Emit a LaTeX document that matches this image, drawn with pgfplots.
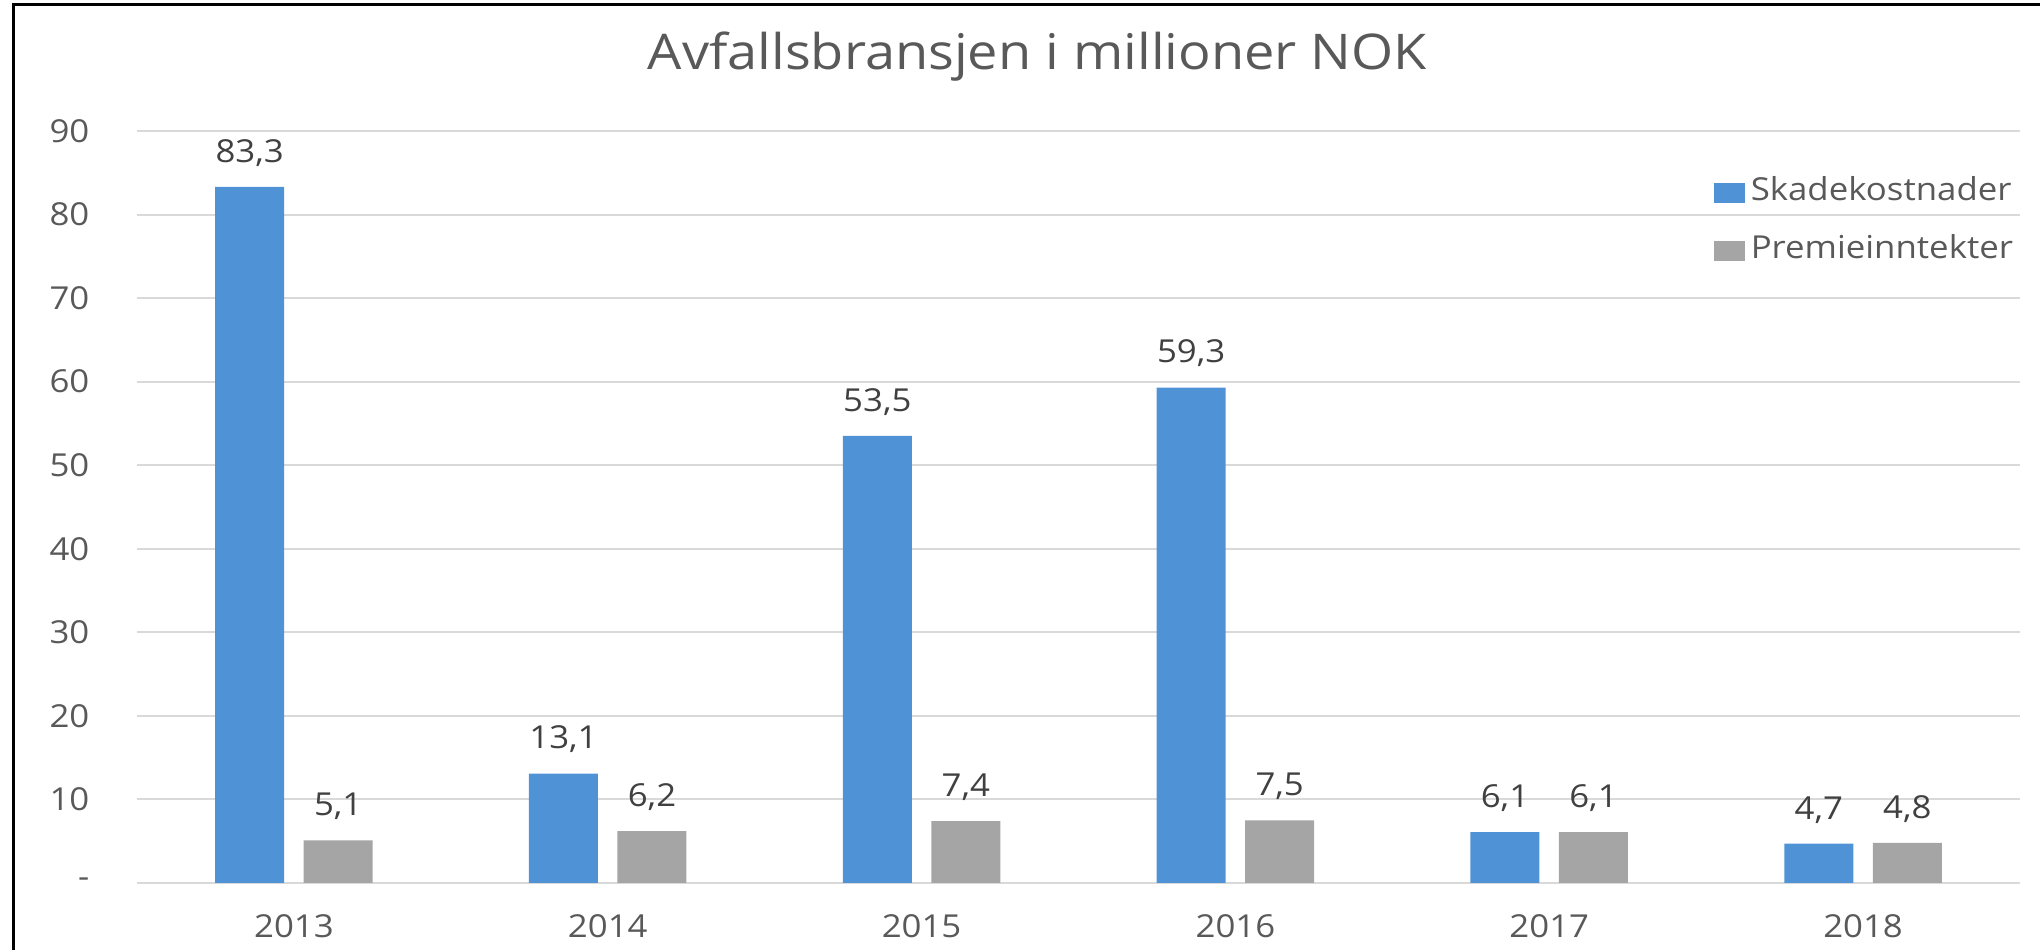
\documentclass[border=0pt]{standalone}
\usepackage{fontspec}
\setmainfont{Open Sans}[FakeStretch=1.1]
\usepackage{pgfplots}
\pgfplotsset{compat=1.18}

\definecolor{skade}{RGB}{79,146,214}
\definecolor{premie}{RGB}{165,165,165}
\definecolor{gridc}{RGB}{217,217,217}
\definecolor{txt}{RGB}{89,89,89}
\definecolor{lbl}{RGB}{64,64,64}

\begin{document}
\begin{tikzpicture}
\path[use as bounding box] (0,0) rectangle (204mm,95mm);
% frame (top and left only)
\draw[black, line width=0.3mm] (1.35mm,0) -- (1.35mm,94.5mm) -- (204mm,94.5mm);
\node[anchor=base, text=txt, font=\fontsize{14}{16}\selectfont] at (103.75mm,88mm) {Avfallsbransjen i millioner NOK};

\begin{axis}[
    at={(13.7mm,6.7mm)}, anchor=south west,
    scale only axis, width=188.3mm, height=75.2mm,
    ybar=1.95mm, bar width=6.9mm,
    xmin=-0.5, xmax=5.5, ymin=0, ymax=90,
    xtick={0,...,5}, xticklabels={2013,2014,2015,2016,2017,2018},
    ytick={0,10,...,90}, yticklabels={-,10,20,30,40,50,60,70,80,90},
    axis line style={draw=none}, major tick length=0pt,
    ymajorgrids, grid style={gridc, line width=0.2mm},
    xticklabel style={anchor=center, yshift=-4.3mm, font=\fontsize{9}{11}\selectfont, text=txt},
    yticklabel style={anchor=east, inner sep=0pt, xshift=-4.7mm, font=\fontsize{9}{11}\selectfont, text=txt},
    /pgf/number format/assume math mode=true,
    /pgf/number format/use comma, /pgf/number format/fixed,
    /pgf/number format/precision=1, /pgf/number format/fixed zerofill,
    nodes near coords,
    every node near coord/.append style={anchor=center, yshift=3.4mm, font=\fontsize{9}{11}\selectfont, text=lbl},
    clip=false,
    legend style={at={(0.837,0.9455)}, anchor=north west, draw=none, fill=none,
        inner sep=0pt, row sep=1.8mm, font=\fontsize{9}{11}\selectfont, text=txt,
        nodes={inner sep=0.6mm, text height=2.2mm, text depth=0.6mm, anchor=west}},
    legend image code/.code={\fill[#1] (0,-1mm) rectangle (3.1mm,1mm);},
    legend cell align=left,
]
\addplot[fill=skade, draw=none] coordinates {(0,83.3) (1,13.1) (2,53.5) (3,59.3) (4,6.1) (5,4.7)};
\addplot[fill=premie, draw=none] coordinates {(0,5.1) (1,6.2) (2,7.4) (3,7.5) (4,6.1) (5,4.8)};
\legend{Skadekostnader, Premieinntekter}
\end{axis}
\end{tikzpicture}
\end{document}
